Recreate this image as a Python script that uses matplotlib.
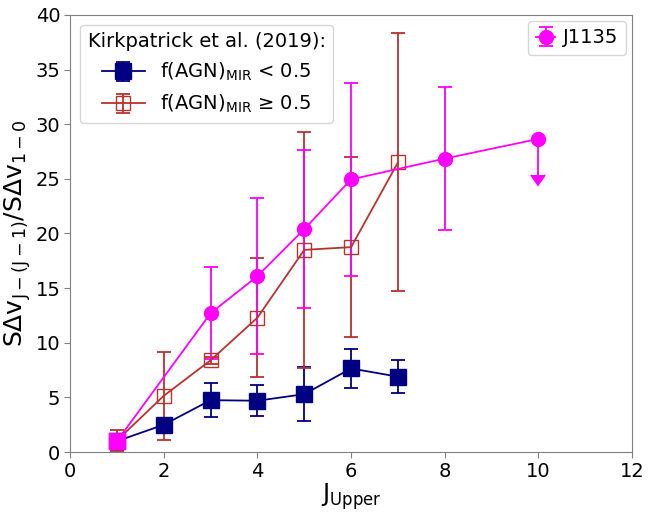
import matplotlib
matplotlib.use("Agg")
import matplotlib.pyplot as plt

# Kirkpatrick et al. (2019), f(AGN)_MIR < 0.5
j_low = [1, 2, 3, 4, 5, 6, 7]
r_low = [1.0, 2.5, 4.75, 4.7, 5.3, 7.65, 6.9]
e_low = [0.3, 0.3, 1.55, 1.4, 2.5, 1.8, 1.5]

# Kirkpatrick et al. (2019), f(AGN)_MIR >= 0.5
j_high = [1, 2, 3, 4, 5, 6, 7]
r_high = [1.05, 5.15, 8.4, 12.3, 18.5, 18.75, 26.5]
e_high = [0.95, 4.0, 0.3, 5.45, 10.8, 8.25, 11.8]

# J1135
j_src = [1, 3, 4, 5, 6, 8, 10]
r_src = [1.0, 12.7, 16.1, 20.4, 24.95, 26.85, 28.65]
e_src = [0.0, 4.2, 7.1, 7.2, 8.85, 6.55, 3.3]
uplim_src = [False, False, False, False, False, False, True]

navy = "#000080"
red = "#b8332e"
mag = "#ff00ff"

fig = plt.figure(figsize=(6.49, 5.12), dpi=100)
ax = fig.add_axes([0.108, 0.117, 0.866, 0.854])

h1 = ax.errorbar(j_low, r_low, yerr=e_low, color=navy, marker="s", ms=11,
                 capsize=5, lw=1.3, elinewidth=1.3, capthick=1.3)
h2 = ax.errorbar(j_high, r_high, yerr=e_high, color=red, marker="s", ms=10,
                 mfc="none", mec=red, capsize=5, lw=1.3, elinewidth=1.3, capthick=1.3)
h3 = ax.errorbar(j_src[1:], r_src[1:], yerr=e_src[1:], uplims=uplim_src[1:],
                 color=mag, marker="o", ms=10, capsize=5, lw=1.3,
                 elinewidth=1.3, capthick=1.3)
# line from the J=1 normalisation point
ax.plot(j_src[:2], r_src[:2], color=mag, lw=1.3)
ax.plot(j_src[0], r_src[0], color=mag, marker="s", ms=11, ls="none", zorder=5)

ax.set_xlim(0, 12)
ax.set_ylim(0, 40)
ax.set_xticks([0, 2, 4, 6, 8, 10, 12])
ax.set_yticks([0, 5, 10, 15, 20, 25, 30, 35, 40])
ax.tick_params(labelsize=14, color="#808080", length=4, pad=3)
for s in ax.spines.values():
    s.set_color("#808080")

ax.set_xlabel(r"J$_{\rm Upper}$", fontsize=17, labelpad=0)
ax.set_ylabel(r"S$\Delta$v$_{\rm J-(J-1)}$/S$\Delta$v$_{1-0}$", fontsize=18, labelpad=2)

leg1 = ax.legend([h1, h2], [r"f(AGN)$_{\rm MIR}$ < 0.5", r"f(AGN)$_{\rm MIR}$ ≥ 0.5"],
                 title="Kirkpatrick et al. (2019):", loc="upper left",
                 fontsize=14, title_fontsize=14, handlelength=2.2,
                 borderaxespad=0.5)
ax.add_artist(leg1)
ax.legend([h3], ["J1135"], loc="upper right", fontsize=14,
          handlelength=1.0, handletextpad=0.4, borderaxespad=0.3)

fig.savefig("out.png", dpi=100)
